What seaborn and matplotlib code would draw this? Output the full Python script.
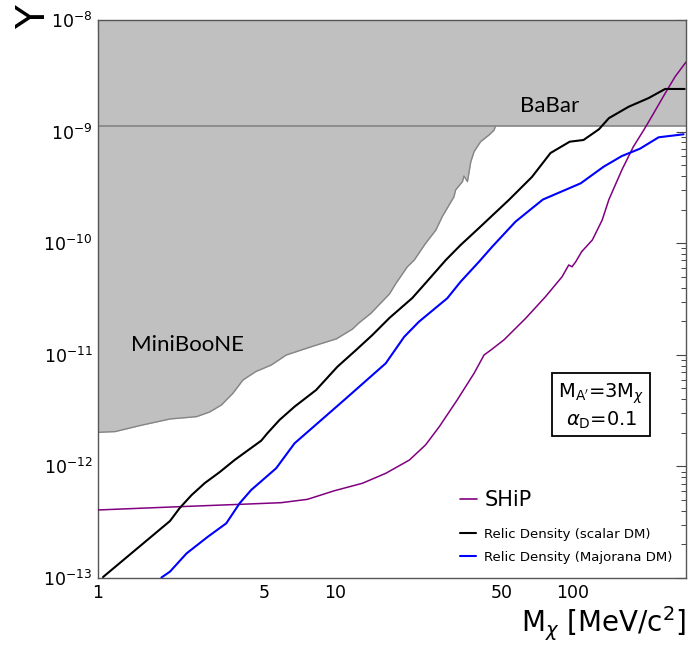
import numpy as np
import pandas as pd
import matplotlib
matplotlib.use("Agg")
import matplotlib.pyplot as plt
import matplotlib.ticker as mticker
from matplotlib.lines import Line2D
import seaborn as sns

# ---------------- data ----------------
scalar_x = [1.05, 2.01, 2.21, 2.48, 2.82, 3.26, 3.76, 4.87, 5.18, 5.82, 6.73, 8.30, 10.2,
            12.2, 14.3, 16.9, 21.1, 24.0, 29.2, 33.7, 40.3, 53.8, 67.3, 80.6, 97.1, 111,
            129, 142, 172, 209, 245, 296]
scalar_y = [1.02e-13, 3.24e-13, 4.24e-13, 5.54e-13, 7.10e-13, 8.91e-13, 1.14e-12, 1.70e-12,
            1.99e-12, 2.61e-12, 3.43e-12, 4.84e-12, 7.82e-12, 1.10e-11, 1.50e-11, 2.14e-11,
            3.23e-11, 4.40e-11, 7.07e-11, 9.63e-11, 1.37e-10, 2.44e-10, 3.92e-10, 6.43e-10,
            8.12e-10, 8.41e-10, 1.05e-9, 1.32e-9, 1.67e-9, 2.00e-9, 2.41e-9, 2.41e-9]

majorana_x = [1.85, 2.01, 2.36, 2.90, 3.47, 3.95, 4.42, 5.63, 6.73, 10.9, 16.3, 19.5, 22.5,
              29.6, 33.7, 40.3, 45.8, 57.4, 74.8, 108, 135, 161, 192, 230, 293]
majorana_y = [1.01e-13, 1.14e-13, 1.66e-13, 2.34e-13, 3.09e-13, 4.67e-13, 6.15e-13, 9.62e-13,
              1.61e-12, 3.94e-12, 8.39e-12, 1.45e-11, 1.98e-11, 3.21e-11, 4.52e-11, 6.83e-11,
              9.31e-11, 1.56e-10, 2.46e-10, 3.44e-10, 4.85e-10, 6.04e-10, 7.03e-10, 8.89e-10,
              9.46e-10]

ship_x = [1.0, 2.17, 3.95, 5.91, 7.63, 9.90, 13.0, 16.3, 20.5, 24.0, 27.4, 32.6, 38.4, 42.3,
          45.1, 51.3, 63.3, 76.8, 90.2, 96.2, 99.3, 103, 109, 121, 133, 142, 161, 180, 199,
          215, 245, 270, 300]
ship_y = [4.07e-13, 4.35e-13, 4.57e-13, 4.73e-13, 5.07e-13, 6.05e-13, 7.06e-13, 8.67e-13,
          1.14e-12, 1.56e-12, 2.27e-12, 3.94e-12, 6.83e-12, 9.96e-12, 1.10e-11, 1.36e-11,
          2.12e-11, 3.32e-11, 5.01e-11, 6.38e-11, 6.15e-11, 6.83e-11, 8.39e-11, 1.07e-10,
          1.61e-10, 2.46e-10, 4.53e-10, 7.32e-10, 1.03e-9, 1.36e-9, 2.20e-9, 3.11e-9, 4.2e-9]

miniboone_x = [1.0, 1.18, 1.50, 2.01, 2.60, 2.95, 3.31, 3.70, 4.08, 4.61, 5.37, 6.21, 7.06,
               8.30, 10.1, 11.8, 12.6, 14.1, 16.9, 18.0, 20.1, 21.5, 24.0, 26.5, 28.2, 31.6,
               32.1, 34.3, 34.8, 36.0, 36.6, 37.2, 38.4, 40.9, 44.4, 46.6, 47.3]
miniboone_y = [2.02e-12, 2.05e-12, 2.32e-12, 2.66e-12, 2.79e-12, 3.07e-12, 3.55e-12, 4.52e-12,
               5.94e-12, 7.06e-12, 8.10e-12, 9.96e-12, 1.09e-11, 1.22e-11, 1.39e-11, 1.70e-11,
               1.94e-11, 2.35e-11, 3.51e-11, 4.37e-11, 6.15e-11, 7.07e-11, 9.98e-11, 1.31e-10,
               1.73e-10, 2.61e-10, 3.00e-10, 3.56e-10, 4.00e-10, 3.56e-10, 4.37e-10, 5.37e-10,
               6.61e-10, 8.12e-10, 9.33e-10, 1.03e-9, 1.12e-9]

babar_y = 1.12e-9

x_ticks = [1, 5, 10, 50, 100]
x_ticklabels = ["1", "5", "10", "50", "100"]
xlim = (1, 300)
ylim = (1e-13, 1e-8)

legend_labels = ["SHiP", "Relic Density (scalar DM)", "Relic Density (Majorana DM)"]

# ---------------- plotting ----------------
sns.set_style("white")
plt.rcParams["font.family"] = ["DejaVu Sans"]
plt.rcParams["mathtext.fontset"] = "dejavusans"
plt.rcParams["text.color"] = "black"

fig = plt.figure(figsize=(6.89, 6.48), dpi=100)
ax = fig.add_axes([98 / 689, 1 - 578 / 648, (686 - 98) / 689, (578 - 20) / 648])

shade = "#c0c0c0"
edge = "#858585"
ax.axhspan(babar_y, ylim[1], color=shade, lw=0, zorder=1)
ax.fill_between(miniboone_x, miniboone_y, ylim[1], color=shade, lw=0, zorder=1)
ax.plot(miniboone_x, miniboone_y, color=edge, lw=1.0, zorder=2)
ax.axhline(babar_y, color=edge, lw=1.2, zorder=2)

df_ship = pd.DataFrame({"x": ship_x, "y": ship_y})
df_sc = pd.DataFrame({"x": scalar_x, "y": scalar_y})
df_mj = pd.DataFrame({"x": majorana_x, "y": majorana_y})

colors = ["#800080", "black", "#0000ff"]
sns.lineplot(data=df_ship, x="x", y="y", ax=ax, sort=False, estimator=None,
             color=colors[0], lw=1.1, zorder=3)
sns.lineplot(data=df_sc, x="x", y="y", ax=ax, sort=False, estimator=None,
             color=colors[1], lw=1.5, zorder=3)
sns.lineplot(data=df_mj, x="x", y="y", ax=ax, sort=False, estimator=None,
             color=colors[2], lw=1.5, zorder=3)

ax.set_xscale("log")
ax.set_yscale("log")
ax.set_xlim(*xlim)
ax.set_ylim(*ylim)
ax.set_xlabel("")
ax.set_ylabel("")
ax.xaxis.label.set_visible(False)
ax.yaxis.label.set_visible(False)

ax.xaxis.set_major_locator(mticker.FixedLocator(x_ticks))
ax.xaxis.set_major_formatter(mticker.FixedFormatter(x_ticklabels))
ax.xaxis.set_minor_locator(mticker.FixedLocator(
    [v for v in mticker.LogLocator(base=10, subs=np.arange(1, 10)).tick_values(1, 300)
     if 1 < v < 300 and v not in x_ticks]))
ax.xaxis.set_minor_formatter(mticker.NullFormatter())
ax.yaxis.set_major_locator(mticker.LogLocator(base=10, numticks=10))
ax.yaxis.set_minor_locator(mticker.LogLocator(base=10, subs=np.arange(2, 10), numticks=20))
ax.yaxis.set_minor_formatter(mticker.NullFormatter())

ax.tick_params(which="both", direction="in", top=True, right=True, colors="#444444",
               labelcolor="black", labelsize=12.5)
ax.tick_params(which="major", length=7, width=0.8, pad=4)
ax.tick_params(which="minor", length=3.5, width=0.7)
for s in ax.spines.values():
    s.set_color("#555555")
    s.set_linewidth(1.0)

# region labels
ax.text(2.39, 1.22e-11, "MiniBooNE", fontsize=16, family=["Lato", "DejaVu Sans"],
        color="black", ha="center", va="center", zorder=4)
ax.text(80, 1.69e-9, "BaBar", fontsize=16, family=["Lato", "DejaVu Sans"],
        color="black", ha="center", va="center", zorder=4)

# parameter box
ax.text(0.856, 0.308, "M$_{\\mathrm{A'}}$=3M$_\\chi$\n$\\alpha_{\\mathrm{D}}$=0.1",
        transform=ax.transAxes, fontsize=14, ha="center", va="center",
        multialignment="center", linespacing=1.2, color="black",
        bbox=dict(boxstyle="square,pad=0.3", fc="white", ec="black", lw=1.3), zorder=5)

# legends
lx = (460 - 98) / 588
h_ship = [Line2D([], [], color=colors[0], lw=1.2)]
leg1 = ax.legend(h_ship, legend_labels[:1], loc="center left",
                 bbox_to_anchor=(lx, (578 - 500) / 558), frameon=False,
                 handlelength=0.8, handletextpad=0.4, fontsize=15, borderaxespad=0,
                 borderpad=0)
ax.add_artist(leg1)
h_relic = [Line2D([], [], color=colors[1], lw=1.5), Line2D([], [], color=colors[2], lw=1.5)]
leg2 = ax.legend(h_relic, legend_labels[1:], loc="upper left",
                 bbox_to_anchor=(lx, (578 - 528) / 558), frameon=False,
                 handlelength=1.2, handletextpad=0.6, fontsize=9.5, labelspacing=0.75,
                 borderaxespad=0, borderpad=0)

# axis titles
fig.text(686 / 689, 1 - 624 / 648, "M$_\\chi$ [MeV/c$^2$]", fontsize=20,
         ha="right", va="center", color="black")
fig.text(34 / 689, 1 - 17 / 648, "Y", fontsize=28, rotation=90, ha="center", va="center",
         color="black")

fig.savefig("out.png", dpi=100)
